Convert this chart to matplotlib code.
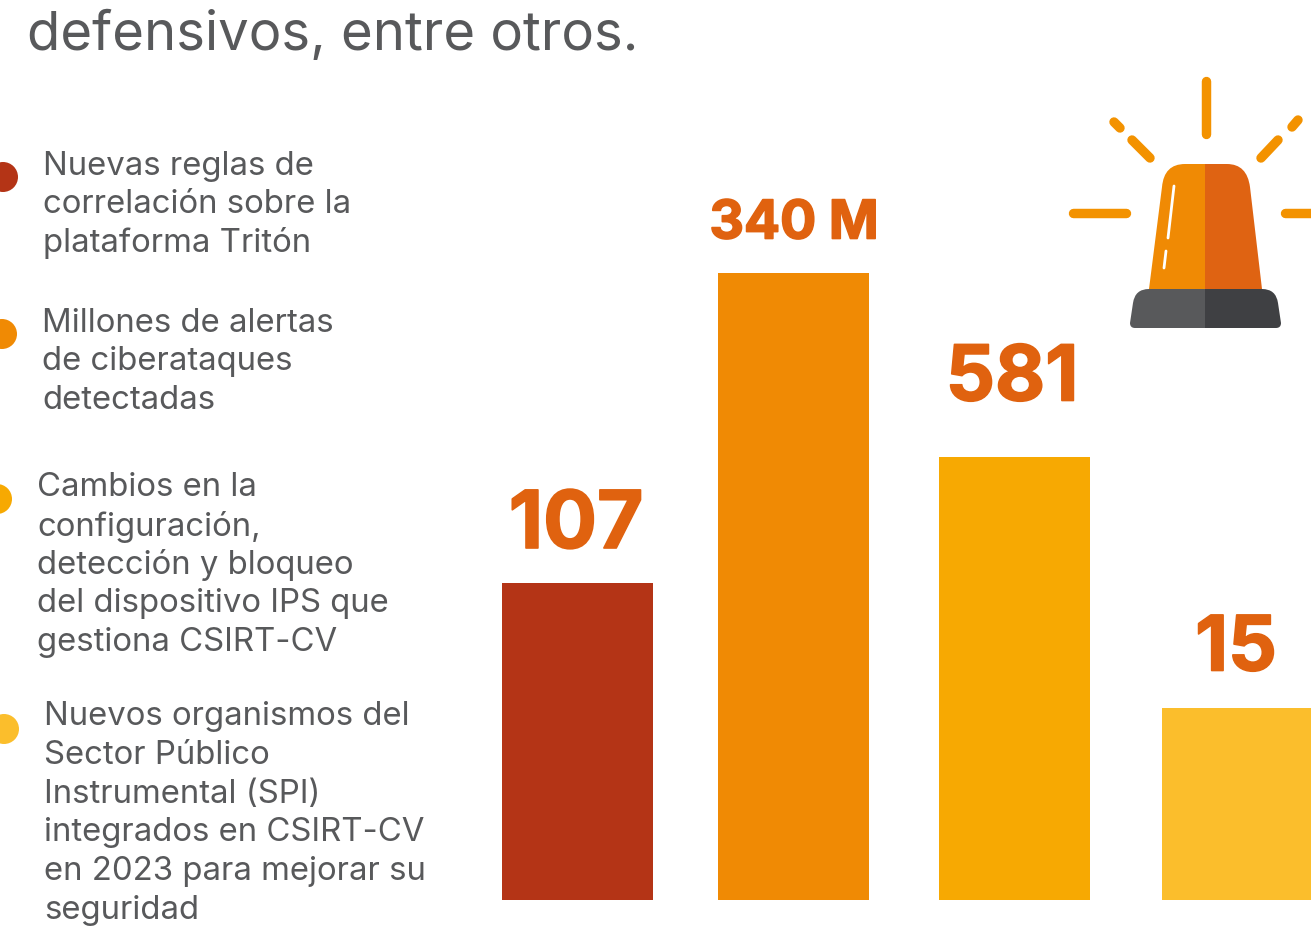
import matplotlib
matplotlib.use("Agg")
import matplotlib.pyplot as plt
import matplotlib.patheffects as pe
from matplotlib.patches import Circle, PathPatch
from matplotlib.path import Path

W, H = 1311, 936
title = "defensivos, entre otros."
bar_labels = ["107", "340 M", "581", "15"]
bar_heights = [317, 627, 443, 192]
bar_colors = ["#B43416", "#F08A04", "#F7A902", "#FBBE2C"]
legend_texts = [
    ["Nuevas reglas de", "correlación sobre la", "plataforma Tritón"],
    ["Millones de alertas", "de ciberataques", "detectadas"],
    ["Cambios en la", "configuración,", "detección y bloqueo", "del dispositivo IPS que", "gestiona CSIRT-CV"],
    ["Nuevos organismos del", "Sector Público", "Instrumental (SPI)", "integrados en CSIRT-CV", "en 2023 para mejorar su", "seguridad"],
]

GREY = "#58595B"
ORANGE = "#E0620F"
plt.rcParams['font.family'] = ['Inter', 'DejaVu Sans']

fig = plt.figure(figsize=(W / 100, H / 100), dpi=100, facecolor="white")
ax = fig.add_axes([0, 0, 1, 1])
ax.set_xlim(0, W)
ax.set_ylim(H, 0)
ax.axis("off")

ax.text(27, 35, title, fontsize=39.2, color=GREY, va="center", ha="left")

baseline = 900
bar_left = [502, 718, 939, 1162]
bar_width = 151
ax.bar(bar_left, [-h for h in bar_heights], width=bar_width, bottom=baseline, align="edge",
       color=bar_colors, linewidth=0)

label_pos = [(576, 527, 57.5), (794, 224, 38.5), (1012, 380, 55.5), (1236, 651, 55)]
for s, (x, y, fs) in zip(bar_labels, label_pos):
    t = ax.text(x, y, s, fontsize=fs, fontweight="bold", color=ORANGE, ha="center", va="center")
    t.set_path_effects([pe.withStroke(linewidth=1.2, foreground=ORANGE)])

legend_x = [43, 42, 37, 44]
legend_y = [166, 323, 488, 717]
dot_y = [177, 334, 499, 729]
dot_x = [3, 2, -3, 4]
for lines, x, y, dy, dx, c in zip(legend_texts, legend_x, legend_y, dot_y, dot_x, bar_colors):
    for i, line in enumerate(lines):
        ax.text(x, y + i * 38.6, line, fontsize=23.7, color=GREY, ha="left", va="center")
    ax.add_patch(Circle((dx, dy), 15, color=c, lw=0))

# alarm icon
RAY = "#F39200"
for x0, y0, x1, y1 in [(1206, 81, 1206, 134), (1073, 213, 1126, 213), (1285, 213, 1330, 213),
                       (1132, 140, 1150, 158), (1114, 122, 1120, 128),
                       (1278, 140, 1261, 158), (1298, 120, 1292, 127)]:
    ax.plot([x0, x1], [y0, y1], color=RAY, lw=6.8, solid_capstyle="round")

C3 = Path.CURVE3
L, M, X = Path.LINETO, Path.MOVETO, Path.CLOSEPOLY
left = Path([(1149, 289), (1162, 187), (1164, 164), (1185, 164), (1205, 164), (1205, 289), (1149, 289)],
            [M, L, C3, C3, L, L, X])
right = Path([(1262, 289), (1250, 187), (1247, 164), (1227, 164), (1205, 164), (1205, 289), (1262, 289)],
             [M, L, C3, C3, L, L, X])
ax.add_patch(PathPatch(left, fc="#F08A04", lw=0))
ax.add_patch(PathPatch(right, fc="#DF6312", lw=0))
ax.plot([1174, 1168], [186, 238], color="white", lw=2, solid_capstyle="round")
ax.plot([1166, 1164], [251, 268], color="white", lw=2, solid_capstyle="round")
base_l = Path([(1205, 328), (1135, 328), (1130, 328), (1130, 323), (1133, 303), (1135, 289), (1149, 289),
               (1205, 289), (1205, 328)],
              [M, L, C3, C3, L, C3, C3, L, X])
base_r = Path([(1205, 328), (1276, 328), (1281, 328), (1281, 323), (1278, 303), (1276, 289), (1262, 289),
               (1205, 289), (1205, 328)],
              [M, L, C3, C3, L, C3, C3, L, X])
ax.add_patch(PathPatch(base_l, fc="#58595B", lw=0))
ax.add_patch(PathPatch(base_r, fc="#3F4043", lw=0))

fig.savefig("out.png", dpi=100, facecolor="white")
